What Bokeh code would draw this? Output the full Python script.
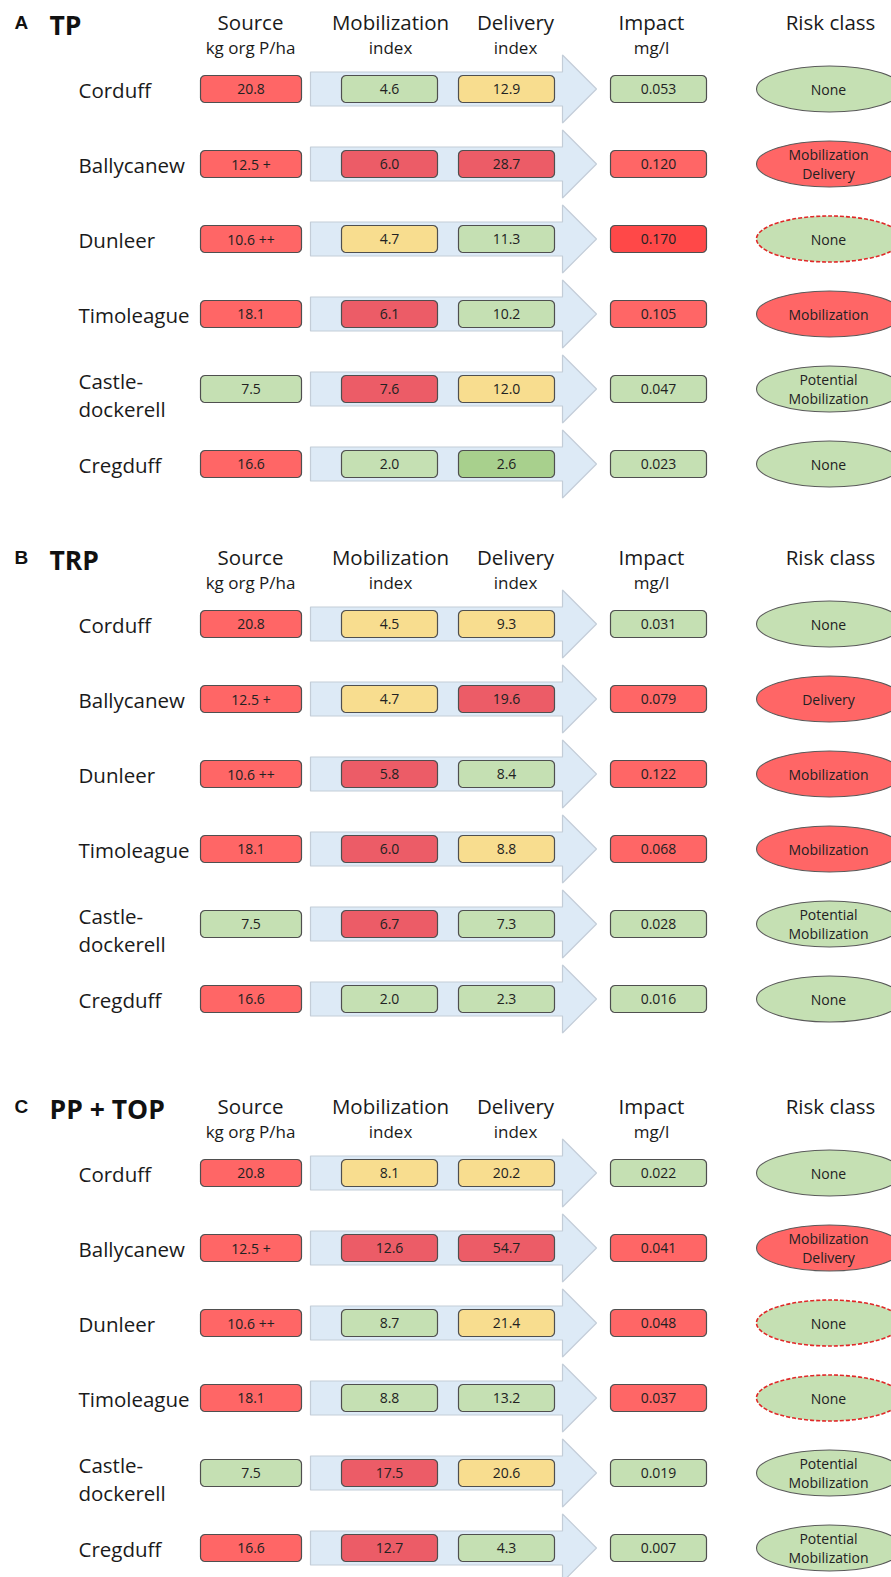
import numpy as np
from bokeh.plotting import figure
from bokeh.models import ColumnDataSource, Range1d
from bokeh.core.properties import value
from bokeh.embed import file_html
from bokeh.resources import INLINE

# ---------------- data ----------------
panel_letters = ["A", "B", "C"]
panel_titles = ["TP", "TRP", "PP + TOP"]
sites = ["Corduff", "Ballycanew", "Dunleer", "Timoleague", "Castle-\ndockerell", "Cregduff"]
headers = ["Source", "Mobilization", "Delivery", "Impact", "Risk class"]
subheaders = ["kg org P/ha", "index", "index", "mg/l", ""]

source_vals = ["20.8", "12.5 +", "10.6 ++", "18.1", "7.5", "16.6"]
source_cls = ["r", "r", "r", "r", "g", "r"]

tp_mob = ["4.6", "6.0", "4.7", "6.1", "7.6", "2.0"]
tp_mob_cls = ["g", "R", "y", "R", "R", "g"]
tp_del = ["12.9", "28.7", "11.3", "10.2", "12.0", "2.6"]
tp_del_cls = ["y", "R", "g", "g", "y", "G"]
tp_imp = ["0.053", "0.120", "0.170", "0.105", "0.047", "0.023"]
tp_imp_cls = ["g", "r", "B", "r", "g", "g"]
tp_risk = ["None", "Mobilization\nDelivery", "None", "Mobilization", "Potential\nMobilization", "None"]
tp_risk_cls = ["g", "r", "gd", "r", "g", "g"]

trp_mob = ["4.5", "4.7", "5.8", "6.0", "6.7", "2.0"]
trp_mob_cls = ["y", "y", "R", "R", "R", "g"]
trp_del = ["9.3", "19.6", "8.4", "8.8", "7.3", "2.3"]
trp_del_cls = ["y", "R", "g", "y", "g", "g"]
trp_imp = ["0.031", "0.079", "0.122", "0.068", "0.028", "0.016"]
trp_imp_cls = ["g", "r", "r", "r", "g", "g"]
trp_risk = ["None", "Delivery", "Mobilization", "Mobilization", "Potential\nMobilization", "None"]
trp_risk_cls = ["g", "r", "r", "r", "g", "g"]

pp_mob = ["8.1", "12.6", "8.7", "8.8", "17.5", "12.7"]
pp_mob_cls = ["y", "R", "g", "g", "R", "R"]
pp_del = ["20.2", "54.7", "21.4", "13.2", "20.6", "4.3"]
pp_del_cls = ["y", "R", "y", "g", "y", "g"]
pp_imp = ["0.022", "0.041", "0.048", "0.037", "0.019", "0.007"]
pp_imp_cls = ["g", "r", "r", "r", "g", "g"]
pp_risk = ["None", "Mobilization\nDelivery", "None", "None", "Potential\nMobilization", "Potential\nMobilization"]
pp_risk_cls = ["g", "r", "gd", "gd", "g", "g"]

panels = [
    (tp_mob, tp_mob_cls, tp_del, tp_del_cls, tp_imp, tp_imp_cls, tp_risk, tp_risk_cls),
    (trp_mob, trp_mob_cls, trp_del, trp_del_cls, trp_imp, trp_imp_cls, trp_risk, trp_risk_cls),
    (pp_mob, pp_mob_cls, pp_del, pp_del_cls, pp_imp, pp_imp_cls, pp_risk, pp_risk_cls),
]

# ---------------- styling / layout ----------------
FILL = {"r": "#FF6666", "R": "#EC5C67", "y": "#F8DD8F", "g": "#C5E0B3",
        "G": "#A8D08D", "B": "#FF4848", "gd": "#C5E0B3"}
FONT = "Open Sans"
panel_base = [88.5, 623.5, 1172.5]
row_step = 75.0
box_cols = {"src": (200, 301), "mob": (341, 437), "del": (458, 554), "imp": (610, 706)}
box_h = 27.0
header_x = [250, 390, 515, 651, 830]
ell_x, ell_w, ell_h = 829, 146, 46

W, H = 891, 1577
p = figure(width=W, height=H, x_range=Range1d(0, W), y_range=Range1d(H, 0),
           output_backend="svg", toolbar_location=None, min_border=0,
           x_axis_location=None, y_axis_location=None)
p.grid.visible = False
p.outline_line_color = None
p.background_fill_color = "white"
p.border_fill_color = "white"


def rounded_rect(x0, x1, yc, h, r=4.5, n=6):
    y0, y1 = yc - h / 2, yc + h / 2
    xs, ys = [], []
    corners = [(x1 - r, y0 + r, -np.pi / 2, 0), (x1 - r, y1 - r, 0, np.pi / 2),
               (x0 + r, y1 - r, np.pi / 2, np.pi), (x0 + r, y0 + r, np.pi, 1.5 * np.pi)]
    for cx, cy, a0, a1 in corners:
        t = np.linspace(a0, a1, n)
        xs.extend(cx + r * np.cos(t))
        ys.extend(cy + r * np.sin(t))
    return list(xs), list(ys)


arrow_xs, arrow_ys = [], []
box_xs, box_ys, box_fill = [], [], []
btxt = dict(x=[], y=[], text=[])
ell = dict(x=[], y=[], fill=[])
ell_d = dict(x=[], y=[], fill=[])
rtxt = dict(x=[], y=[], text=[])
lbl = dict(x=[], y=[], text=[])
hdr = dict(x=[], y=[], text=[])
sub = dict(x=[], y=[], text=[])
ttl = dict(x=[], y=[], text=[])
let = dict(x=[], y=[], text=[])

for pi, (mob, mob_c, dl, dl_c, imp, imp_c, risk, risk_c) in enumerate(panels):
    base = panel_base[pi]
    let["x"].append(14); let["y"].append(base - 67); let["text"].append(panel_letters[pi])
    ttl["x"].append(49); ttl["y"].append(base - 64); ttl["text"].append(panel_titles[pi])
    for hx, ht, st in zip(header_x, headers, subheaders):
        hdr["x"].append(hx); hdr["y"].append(base - 67.5); hdr["text"].append(ht)
        if st:
            sub["x"].append(hx); sub["y"].append(base - 42); sub["text"].append(st)
    for i in range(len(sites)):
        yc = base + row_step * i
        # arrow
        arrow_xs.append([310, 562, 562, 596, 562, 562, 310])
        arrow_ys.append([yc - 17, yc - 17, yc - 34, yc, yc + 34, yc + 17, yc + 17])
        # site label
        lines = sites[i].split("\n")
        if len(lines) == 1:
            lbl["x"].append(78); lbl["y"].append(yc + 1); lbl["text"].append(lines[0])
        else:
            for k, ln in enumerate(lines):
                lbl["x"].append(78); lbl["y"].append(yc - 8 + 28 * k); lbl["text"].append(ln)
        # boxes
        for key, txt, cls in (("src", source_vals[i], source_cls[i]), ("mob", mob[i], mob_c[i]),
                              ("del", dl[i], dl_c[i]), ("imp", imp[i], imp_c[i])):
            x0, x1 = box_cols[key]
            bx, by = rounded_rect(x0, x1, yc, box_h)
            box_xs.append(bx); box_ys.append(by); box_fill.append(FILL[cls])
            btxt["x"].append((x0 + x1) / 2); btxt["y"].append(yc); btxt["text"].append(txt)
        # risk ellipse
        target = ell_d if risk_c[i] == "gd" else ell
        target["x"].append(ell_x); target["y"].append(yc); target["fill"].append(FILL[risk_c[i]])
        rl = risk[i].split("\n")
        if len(rl) == 1:
            rtxt["x"].append(ell_x - 1); rtxt["y"].append(yc); rtxt["text"].append(rl[0])
        else:
            for k, ln in enumerate(rl):
                rtxt["x"].append(ell_x - 1); rtxt["y"].append(yc - 9.5 + 19 * k); rtxt["text"].append(ln)

# arrows
p.patches(arrow_xs, arrow_ys, fill_color="#DDEAF6", line_color="#C3CDD8", line_width=1.2)
# boxes
p.patches(xs="xs", ys="ys", fill_color="fill",
          source=ColumnDataSource(dict(xs=box_xs, ys=box_ys, fill=box_fill)),
          line_color="#4F4F4F", line_width=1.2)
# ellipses
p.ellipse(x="x", y="y", width=ell_w, height=ell_h, fill_color="fill",
          source=ColumnDataSource(ell), line_color="#5A5A5A", line_width=1.1)
p.ellipse(x="x", y="y", width=ell_w, height=ell_h, fill_color="fill",
          source=ColumnDataSource(ell_d), line_color="#E02828", line_width=1.6, line_dash="4 2")


def txt(d, size, align="center", bold=False, font=FONT, color="#1A1A1A"):
    p.text(x="x", y="y", text="text", source=ColumnDataSource(d), text_align=align,
           text_baseline="middle", text_font=value(font), text_font_size=value(size),
           text_font_style="bold" if bold else "normal", text_color=color)


txt(btxt, "14px", color="#222222")
txt(rtxt, "14px", color="#222222")
txt(lbl, "20.5px", align="left")
txt(hdr, "20.5px")
txt(sub, "17px")
txt(ttl, "26.5px", align="left", bold=True, color="#111111")
txt(let, "19px", align="left", bold=True, font="Liberation Sans", color="#111111")

open("out.html", "w").write(file_html(p, INLINE))
